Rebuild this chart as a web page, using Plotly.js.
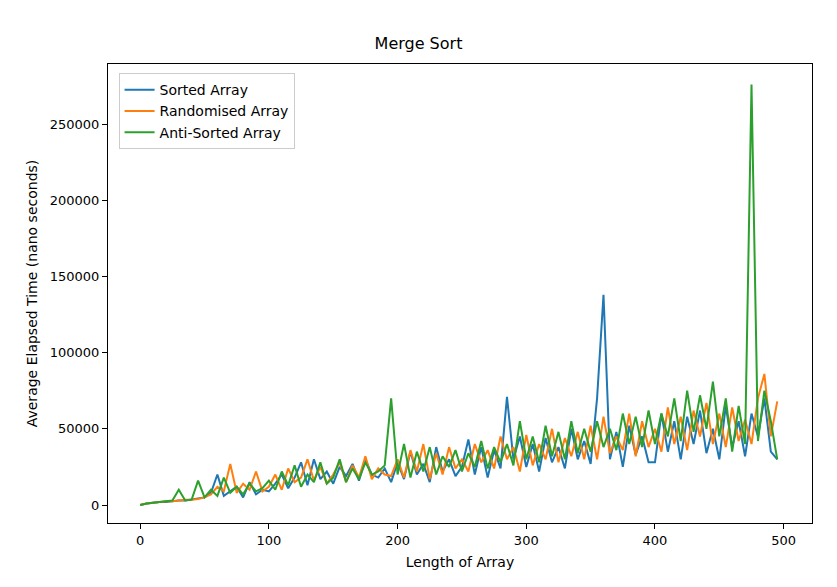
<!DOCTYPE html>
<html>
<head>
<meta charset="utf-8">
<script src="https://cdn.plot.ly/plotly-3.0.1.min.js"></script>
<style>body{margin:0;background:#fff}</style>
</head>
<body>
<div id="chart" style="width:837px;height:587px"></div>
<script>
// values in thousands of nanoseconds, one sample every 5 array lengths
var step = 5;
var sorted = [0,1,1.5,2,2,2.5,3,3,3.5,4,
  5,8,20,6,9,12,5,15,7,10,
  9,14,20,11,18,28,13,30,17,22,
  14,25,19,27,16,30,20,18,24,15,
  28,17,35,20,27,15,38,22,30,19,
  25,43,20,38,18,36,24,71,30,45,
  25,40,22,44,28,38,24,50,30,42,
  27,70,138,30,48,25,52,33,45,28,
  28,60,35,55,30,58,40,62,34,50,
  30,65,38,55,32,60,45,70,35,30];
var randomised = [0,1,1.5,2,2.5,2.5,3,3.5,3.5,4,
  5,7,12,9,27,8,14,10,22,9,
  12,20,10,24,15,18,30,16,25,14,
  20,28,15,26,18,32,17,24,20,19,
  30,18,36,22,40,17,34,20,38,24,
  30,22,40,28,36,24,45,30,38,22,
  46,26,40,30,50,28,44,32,48,30,
  52,30,58,34,45,36,60,32,55,38,
  50,35,64,40,58,36,62,45,67,40,
  60,38,64,42,56,40,70,86,45,68];
var antiSorted = [0,1,1.5,2,2.5,3,10,3,3.5,16,
  5,10,6,18,8,12,7,14,9,11,
  16,10,22,13,26,12,20,15,28,14,
  18,30,15,24,17,28,20,22,26,70,
  20,40,18,35,22,38,20,32,25,36,
  22,34,25,42,24,38,28,40,26,55,
  30,45,28,52,32,48,30,55,34,50,
  35,55,38,50,36,60,40,58,38,62,
  40,60,45,70,42,75,48,72,50,81,
  45,70,35,65,40,276,42,75,55,30];

var xs = sorted.map(function(_, i){ return i * step; });
function ns(a){ return a.map(function(v){ return v * 1000; }); }

var traces = [
  {x: xs, y: ns(sorted), name: 'Sorted Array', mode: 'lines', line: {color: '#1f77b4', width: 2}},
  {x: xs, y: ns(randomised), name: 'Randomised Array', mode: 'lines', line: {color: '#ff7f0e', width: 2}},
  {x: xs, y: ns(antiSorted), name: 'Anti-Sorted Array', mode: 'lines', line: {color: '#2ca02c', width: 2}}
];

var axis = {showgrid: false, zeroline: false, showline: true, mirror: true, linecolor: '#000',
  ticks: 'outside', ticklen: 5, tickcolor: '#000', tickfont: {size: 13}};

var layout = {
  width: 837, height: 587,
  font: {family: 'DejaVu Sans', size: 13, color: '#000'},
  title: {text: 'Merge Sort', x: 0.5, xanchor: 'center', y: 0.935, font: {size: 16}},
  margin: {l: 108, r: 25, t: 64, b: 64},
  xaxis: Object.assign({}, axis, {range: [-25, 522], dtick: 100, title: {text: 'Length of Array', standoff: 10, font: {size: 14}}}),
  yaxis: Object.assign({}, axis, {range: [-11800, 289400], dtick: 50000, tickformat: 'd',
    title: {text: 'Average Elapsed Time (nano seconds)', standoff: 8, font: {size: 14}}}),
  showlegend: true,
  legend: {x: 0.015, y: 0.98, xanchor: 'left', yanchor: 'top', bordercolor: '#ccc', borderwidth: 1,
    bgcolor: 'rgba(255,255,255,0.8)', font: {size: 14}},
  plot_bgcolor: '#fff', paper_bgcolor: '#fff'
};

Plotly.newPlot('chart', traces, layout, {displayModeBar: false});
</script>
</body>
</html>
